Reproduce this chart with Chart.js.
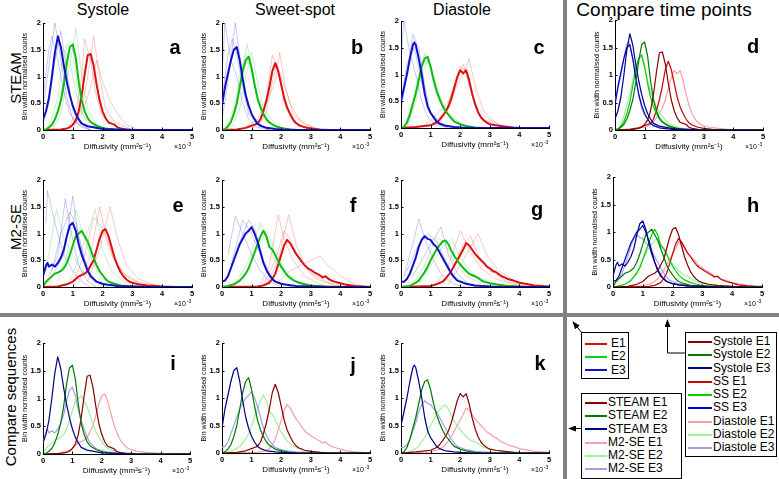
<!DOCTYPE html>
<html>
<head>
<meta charset="utf-8">
<script src="https://cdn.jsdelivr.net/npm/chart.js@4"></script>
<style>
body{margin:0;width:779px;height:479px;position:relative;background:#fff;overflow:hidden;
  font-family:"Liberation Sans",Arial,sans-serif;color:#000}
canvas{position:absolute}
.t{position:absolute;font-size:16px;transform:translateX(-50%);white-space:nowrap;line-height:1}
.r{position:absolute;font-size:15px;transform:translate(-50%,-50%) rotate(-90deg);white-space:nowrap;line-height:1}
.l{position:absolute;font-size:20px;font-weight:bold;transform:translate(-50%,-50%);line-height:1}
.sep{position:absolute;background:#808080}
.box{position:absolute;border:1px solid #000;background:#fff;box-sizing:border-box;font-size:12px}
.row{height:13.3px;line-height:13.3px;white-space:nowrap}
.sw{display:inline-block;height:2px;vertical-align:middle;margin-top:-2px}
</style>
</head>
<body>

<div class="sep" style="left:0;top:313px;width:779px;height:4px"></div>
<div class="sep" style="left:563px;top:0;width:4px;height:479px"></div>

<div class="t" style="left:103px;top:2px">Systole</div>
<div class="t" style="left:295px;top:2px">Sweet-spot</div>
<div class="t" style="left:462px;top:2px">Diastole</div>
<div class="t" style="left:664px;top:0px;font-size:19px">Compare time points</div>

<div class="r" style="left:15px;top:78px">STEAM</div>
<div class="r" style="left:15px;top:227px">M2-SE</div>
<div class="r" style="left:10px;top:397px">Compare sequences</div>

<script>
// ---- mean curves, STEAM (x in 1e-3 mm2/s, y normalised counts) ----
const steamSysE1 = [[0,0],[.6,.01],[.8,.03],[.9,.05],[1,.1],[1.1,.18],[1.2,.35],[1.3,.65],[1.4,1.05],[1.5,1.4],[1.6,1.42],[1.7,1.2],[1.8,.85],[1.9,.55],[2,.35],[2.1,.22],[2.2,.14],[2.3,.12],[2.4,.1],[2.5,.05],[2.6,.03],[2.8,.01],[3,0],[5,0]];
const steamSysE2 = [[0,0],[.1,.01],[.2,.05],[.3,.1],[.4,.2],[.5,.35],[.6,.55],[.7,.85],[.8,1.25],[.9,1.55],[1,1.6],[1.1,1.35],[1.2,.9],[1.3,.55],[1.4,.35],[1.5,.22],[1.6,.15],[1.8,.08],[2,.04],[2.2,.02],[2.5,0],[5,0]];
const steamSysE3 = [[0,.2],[.1,.35],[.2,.6],[.3,1.0],[.4,1.45],[.5,1.75],[.6,1.55],[.7,1.2],[.8,.9],[.9,.65],[1,.45],[1.1,.3],[1.2,.2],[1.3,.12],[1.5,.07],[2,.02],[2.5,.01],[3,0],[5,0]];

const steamSsE1 = [[0,0],[.5,.01],[.8,.04],[1,.08],[1.1,.1],[1.2,.12],[1.3,.2],[1.4,.35],[1.5,.55],[1.6,.8],[1.7,1.1],[1.8,1.25],[1.9,1.1],[2,.85],[2.1,.6],[2.2,.42],[2.3,.3],[2.4,.2],[2.5,.13],[2.6,.09],[2.8,.05],[3,.03],[3.3,.01],[3.6,0],[5,0]];
const steamSsE2 = [[0,0],[.1,.02],[.2,.07],[.3,.15],[.4,.3],[.5,.5],[.6,.8],[.7,1.1],[.8,1.3],[.9,1.37],[1,1.15],[1.1,.85],[1.2,.6],[1.3,.42],[1.4,.3],[1.5,.2],[1.6,.14],[1.8,.07],[2,.04],[2.3,.01],[2.6,0],[5,0]];
const steamSsE3 = [[0,.45],[.1,.8],[.2,1.05],[.3,1.3],[.4,1.5],[.5,1.55],[.6,1.3],[.7,.95],[.8,.65],[.9,.45],[1,.3],[1.1,.2],[1.2,.12],[1.3,.08],[1.5,.04],[1.8,.02],[2,.01],[2.5,0],[5,0]];

const steamDiaE1 = [[0,0],[.5,.02],[1,.05],[1.2,.1],[1.3,.15],[1.4,.22],[1.5,.3],[1.6,.4],[1.7,.55],[1.8,.75],[1.9,.95],[2,1.08],[2.1,1.02],[2.2,1.08],[2.3,.9],[2.4,.65],[2.5,.45],[2.6,.3],[2.7,.2],[2.8,.14],[2.9,.1],[3,.07],[3.2,.05],[3.5,.03],[3.8,.01],[4,0],[5,0]];
const steamDiaE2 = [[0,0],[.1,.02],[.2,.1],[.3,.25],[.4,.45],[.5,.65],[.6,.9],[.7,1.15],[.8,1.3],[.9,1.33],[1,1.15],[1.1,.9],[1.2,.7],[1.3,.55],[1.4,.42],[1.5,.32],[1.6,.25],[1.7,.18],[1.8,.12],[2,.07],[2.2,.04],[2.5,.01],[2.8,0],[5,0]];
const steamDiaE3 = [[0,.5],[.1,.75],[.2,1.0],[.3,1.3],[.4,1.55],[.45,1.6],[.5,1.55],[.6,1.3],[.7,1.0],[.8,.65],[.9,.4],[1,.28],[1.1,.2],[1.2,.12],[1.3,.08],[1.5,.04],[1.8,.02],[2,.01],[2.5,0],[5,0]];

// ---- mean curves, M2-SE ----
const m2SysE1 = [[0,0],[.5,.01],[.8,.05],[1,.1],[1.2,.2],[1.4,.25],[1.5,.3],[1.6,.4],[1.7,.5],[1.8,.7],[1.9,.9],[2,1.05],[2.1,1.08],[2.2,.95],[2.3,.75],[2.4,.55],[2.5,.4],[2.6,.28],[2.7,.2],[2.8,.14],[2.9,.1],[3,.08],[3.2,.05],[3.5,.03],[4,.01],[4.5,0],[5,0]];
const m2SysE2 = [[0,0],[.1,.1],[.2,.15],[.3,.2],[.4,.25],[.5,.27],[.6,.3],[.7,.35],[.8,.45],[.9,.6],[1,.78],[1.1,.95],[1.2,1.0],[1.3,1.05],[1.4,.95],[1.5,.85],[1.6,.7],[1.7,.55],[1.8,.4],[1.9,.3],[2,.22],[2.1,.15],[2.2,.1],[2.4,.06],[2.6,.03],[3,.01],[3.5,0],[5,0]];
const m2SysE3 = [[0,.2],[.1,.4],[.15,.45],[.2,.38],[.3,.42],[.4,.38],[.5,.45],[.6,.55],[.7,.7],[.8,.95],[.9,1.15],[1,1.2],[1.1,1.05],[1.2,.8],[1.3,.6],[1.4,.45],[1.5,.3],[1.6,.2],[1.7,.15],[1.8,.1],[2,.06],[2.2,.04],[2.5,.02],[3,.01],[3.5,0],[5,0]];

const m2SsE1 = [[0,0],[1.2,.01],[1.4,.03],[1.6,.08],[1.7,.15],[1.8,.25],[1.9,.42],[2,.6],[2.1,.78],[2.2,.88],[2.3,.82],[2.4,.72],[2.5,.62],[2.6,.55],[2.7,.47],[2.8,.4],[2.9,.35],[3,.32],[3.1,.28],[3.2,.25],[3.3,.22],[3.4,.18],[3.5,.2],[3.6,.15],[3.7,.12],[3.8,.1],[4,.07],[4.2,.04],[4.5,.02],[5,0]];
const m2SsE2 = [[0,0],[.2,.02],[.4,.05],[.6,.12],[.8,.25],[.9,.35],[1,.5],[1.1,.65],[1.2,.8],[1.3,.95],[1.4,1.05],[1.5,.95],[1.6,.75],[1.7,.7],[1.8,.6],[1.9,.48],[2,.38],[2.1,.3],[2.2,.22],[2.3,.17],[2.4,.13],[2.6,.08],[2.8,.05],[3,.03],[3.5,.01],[4,0],[5,0]];
const m2SsE3 = [[0,.1],[.1,.12],[.2,.2],[.3,.35],[.4,.5],[.5,.65],[.6,.8],[.7,.9],[.8,1.0],[.9,1.05],[1,1.12],[1.1,1.0],[1.2,.85],[1.3,.65],[1.4,.45],[1.5,.32],[1.6,.22],[1.7,.15],[1.8,.1],[2,.06],[2.2,.04],[2.5,.02],[3,.01],[3.5,0],[5,0]];

const m2DiaE1 = [[0,0],[1,.02],[1.2,.05],[1.4,.1],[1.5,.15],[1.6,.22],[1.7,.3],[1.8,.4],[1.9,.5],[2,.6],[2.1,.7],[2.2,.82],[2.3,.78],[2.4,.7],[2.5,.62],[2.6,.56],[2.7,.5],[2.8,.45],[2.9,.38],[3,.35],[3.1,.3],[3.2,.28],[3.3,.24],[3.4,.2],[3.5,.18],[3.6,.15],[3.8,.12],[4,.08],[4.2,.06],[4.5,.03],[5,.01]];
const m2DiaE2 = [[0,0],[.3,.02],[.5,.08],[.6,.12],[.7,.2],[.8,.28],[.9,.38],[1,.5],[1.1,.6],[1.2,.7],[1.3,.78],[1.4,.85],[1.5,.87],[1.6,.8],[1.7,.68],[1.8,.58],[1.9,.5],[2,.42],[2.1,.36],[2.2,.3],[2.3,.25],[2.4,.22],[2.5,.2],[2.6,.17],[2.7,.13],[2.8,.1],[3,.07],[3.2,.05],[3.5,.03],[4,.01],[4.5,0],[5,0]];
const m2DiaE3 = [[0,.1],[.1,.1],[.2,.15],[.3,.25],[.4,.4],[.5,.55],[.6,.75],[.7,.88],[.8,.95],[.9,.9],[1,.88],[1.1,.8],[1.2,.75],[1.3,.65],[1.4,.55],[1.5,.45],[1.6,.35],[1.7,.25],[1.8,.18],[1.9,.12],[2,.1],[2.2,.06],[2.5,.03],[3,.01],[3.5,0],[5,0]];

// ---- individual subjects (faint) ----
const aFaintE1 = [[[.8,0],[1.1,.3],[1.3,1.0],[1.4,1.7],[1.6,1.3],[1.8,.6],[2,.25],[2.5,.05],[3,0]],
                  [[1,0],[1.3,.4],[1.5,1.0],[1.7,1.75],[1.9,1.0],[2.1,.4],[2.4,.15],[3,0]],
                  [[.9,.05],[1.3,.3],[1.6,.8],[1.8,1.3],[2,.9],[2.2,.6],[2.5,.3],[2.8,.1],[3.2,0]]];
const aFaintE2 = [[[.2,0],[.5,.3],[.7,1.0],[.8,1.6],[1,1.5],[1.2,.6],[1.4,.2],[1.8,.05],[2.2,0]],
                  [[.3,0],[.6,.3],[.9,1.2],[1.1,1.9],[1.3,1.0],[1.5,.4],[1.8,.1],[2.2,0]],
                  [[.2,.05],[.5,.6],[.7,1.5],[.9,1.3],[1.1,.7],[1.3,.3],[1.7,.1],[2.2,0]]];
const aFaintE3 = [[[0,.4],[.2,1.2],[.4,2.0],[.6,1.3],[.8,.6],[1,.2],[1.3,.05],[1.6,0]],
                  [[0,.1],[.2,.5],[.4,1.3],[.6,1.85],[.8,1.1],[1,.4],[1.2,.15],[1.6,0]],
                  [[0,.6],[.2,1.5],[.3,1.75],[.5,1.3],[.7,.7],[.9,.3],[1.2,.1],[1.6,0]]];

const bFaintE1 = [[[1,0],[1.3,.2],[1.5,.6],[1.7,1.4],[1.9,1.1],[2.1,.5],[2.4,.15],[3,0]],
                  [[.8,.05],[1.2,.2],[1.5,.5],[1.8,.9],[1.95,1.45],[2.1,.9],[2.4,.3],[2.8,.1],[3.4,0]],
                  [[1.2,0],[1.5,.35],[1.7,.9],[1.85,1.25],[2,1.0],[2.3,.5],[2.6,.2],[3.2,0]]];
const bFaintE2 = [[[.2,0],[.5,.5],[.7,1.2],[.85,1.6],[1,1.2],[1.2,.5],[1.5,.2],[2,0]],
                  [[.3,0],[.6,.4],[.8,1.0],[1,1.45],[1.2,.9],[1.4,.4],[1.8,.1],[2.2,0]],
                  [[.1,0],[.4,.4],[.6,1.0],[.8,1.4],[.95,1.3],[1.2,.6],[1.5,.2],[2,0]]];
const bFaintE3 = [[[0,1.0],[.1,2.0],[.3,1.3],[.5,1.0],[.7,.5],[.9,.2],[1.2,.05],[1.6,0]],
                  [[0,.2],[.2,.9],[.45,2.0],[.6,1.4],[.8,.7],[1,.3],[1.3,.1],[1.6,0]],
                  [[0,.6],[.2,1.4],[.35,1.7],[.5,1.4],[.7,.8],[.9,.3],[1.2,.1],[1.6,0]]];

const cFaintE1 = [[[1,.05],[1.5,.3],[1.8,.8],[2,1.15],[2.2,1.05],[2.4,.6],[2.7,.2],[3.2,.05],[3.8,0]],
                  [[1.2,.05],[1.6,.35],[1.9,.8],[2.1,1.0],[2.3,1.3],[2.5,.8],[2.8,.3],[3.3,.05],[3.8,0]],
                  [[.8,.05],[1.3,.3],[1.6,.5],[1.9,.9],[2.1,1.2],[2.3,.8],[2.6,.35],[3,.15],[3.6,0]]];
const cFaintE2 = [[[.1,0],[.4,.5],[.6,1.0],[.8,1.4],[1,1.1],[1.2,.6],[1.5,.3],[2,.05],[2.4,0]],
                  [[.2,0],[.5,.5],[.7,1.0],[.9,1.25],[1.1,1.0],[1.3,.6],[1.6,.25],[2.2,0]]];
const cFaintE3 = [[[0,1.3],[.1,2.0],[.3,1.4],[.5,1.0],[.7,.5],[.9,.2],[1.2,.05],[1.6,0]],
                  [[0,.3],[.2,1.0],[.4,1.75],[.6,1.5],[.8,.8],[1,.3],[1.3,.1],[1.8,0]],
                  [[0,.5],[.2,1.2],[.45,1.5],[.6,1.1],[.8,.6],[1,.3],[1.3,.1],[1.8,0]]];

const eFaintE1 = [[[1.2,.1],[1.6,.6],[1.9,1.5],[2.1,1.0],[2.4,.5],[2.8,.2],[3.3,.05],[3.8,0]],
                  [[1.5,.1],[1.9,.7],[2.25,1.5],[2.5,.9],[2.8,.4],[3.2,.15],[3.8,.03],[4.3,0]],
                  [[1,.1],[1.4,.6],[1.7,1.3],[2,1.1],[2.3,.6],[2.7,.25],[3.2,.1],[4,0]]];
const eFaintE2 = [[[.1,.3],[.45,1.45],[.7,.9],[1,.6],[1.3,.3],[1.7,.1],[2.2,0]],
                  [[.5,.1],[.8,.6],[1.1,1.45],[1.4,.9],[1.7,.4],[2,.15],[2.5,0]],
                  [[.9,.1],[1.3,.7],[1.75,1.45],[2,.7],[2.3,.3],[2.7,.1],[3.2,0]]];
const eFaintE3 = [[[.1,1.2],[.15,1.8],[.4,1.2],[.7,.6],[1,.3],[1.3,.1],[1.6,0]],
                  [[.2,.2],[.5,.6],[.75,1.65],[.95,1.0],[1.2,.4],[1.5,.1],[1.8,0]],
                  [[.3,.2],[.7,.6],[1,1.7],[1.2,.9],[1.5,.3],[1.8,.1],[2.2,0]],
                  [[.3,.3],[.6,1.0],[.9,1.4],[1.1,1.2],[1.4,.5],[1.7,.15],[2,0]]];

const fFaintE1 = [[[1.3,.05],[1.6,.4],[1.9,1.35],[2.1,.9],[2.4,.5],[2.8,.2],[3.3,.05],[3.8,0]],
                  [[1.5,.05],[1.9,.5],[2.25,1.35],[2.5,.8],[2.8,.4],[3.2,.15],[3.8,.03],[4.3,0]],
                  [[1.8,.05],[2.3,.3],[2.8,.45],[3.3,.58],[3.6,.4],[4,.2],[4.5,.05],[5,0]],
                  [[1.4,.05],[1.8,.5],[2.1,1.05],[2.3,.9],[2.6,.55],[3,.25],[3.6,.08],[4.2,0]]];
const fFaintE2 = [[[.5,.1],[.9,.5],[1.3,1.2],[1.5,.9],[1.8,.5],[2.2,.2],[2.8,.05],[3.2,0]],
                  [[.7,.1],[1.1,.6],[1.5,1.05],[1.8,.7],[2.1,.35],[2.5,.1],[3,0]]];
const fFaintE3 = [[[.2,.6],[.45,1.32],[.7,1.0],[1,.6],[1.3,.3],[1.6,.1],[2,0]],
                  [[.2,.2],[.5,.7],[.9,1.25],[1.1,1.1],[1.4,.5],[1.7,.15],[2.1,0]],
                  [[.3,.4],[.7,1.25],[1,1.0],[1.3,.6],[1.6,.2],[2,.05],[2.4,0]]];

const gFaintE1 = [[[1.2,.05],[1.6,.4],[2,1.05],[2.3,.7],[2.7,.35],[3.2,.15],[3.8,.05],[4.4,0]],
                  [[1.6,.05],[2,.4],[2.3,.7],[2.6,1.0],[2.9,.6],[3.3,.3],[3.9,.1],[4.6,0]],
                  [[1.4,.05],[1.8,.4],[2.1,.8],[2.35,.95],[2.6,.6],[3,.3],[3.6,.1],[4.3,0]]];
const gFaintE2 = [[[.4,.05],[.8,.4],[1.2,.95],[1.5,.8],[1.8,.45],[2.2,.2],[2.8,.05],[3.3,0]],
                  [[.6,.05],[1,.4],[1.4,.75],[1.7,.9],[2,.55],[2.4,.25],[3,.08],[3.6,0]]];
const gFaintE3 = [[[.1,.2],[.4,.8],[.6,1.27],[.8,.9],[1.1,.5],[1.4,.2],[1.8,.05],[2.2,0]],
                  [[.4,.2],[.8,.6],[1.1,.9],[1.35,1.12],[1.6,.6],[1.9,.25],[2.3,.05],[2.8,0]],
                  [[.2,.3],[.6,.8],[.9,1.0],[1.2,.85],[1.5,.5],[1.8,.2],[2.2,.05],[2.6,0]]];

const X_TICKS = [0, 1, 2, 3, 4, 5];
const Y_TICKS = [0, 0.5, 1, 1.5, 2];

// colours
const MEAN = {E1: '#dd1010', E2: '#10bb10', E3: '#1010c8'};
const FAINT = {E1: 'rgba(235,40,40,0.32)', E2: 'rgba(40,200,40,0.32)', E3: 'rgba(40,40,220,0.32)'};
const DARK = {E1: '#880000', E2: '#007a00', E3: '#000082'};
const MID = {E1: '#c80000', E2: '#00d000', E3: '#0000c8'};
const LIGHT = {E1: '#f4a0a8', E2: '#a0f0a0', E3: '#a0a0e6'};

Chart.defaults.font.family = '"Liberation Sans", Arial, sans-serif';
Chart.defaults.color = '#000';

const xy = pts => pts.map(p => ({x: p[0], y: p[1]}));
const ln = (pts, color, w) => ({data: xy(pts), borderColor: color, borderWidth: w});
const faint = (list, color) => list.map(p => ln(p, color, 0.8));

function meanPanel(e1, e2, e3, f1, f2, f3) {
    return [ln(e3, MEAN.E3, 2), ln(e2, MEAN.E2, 2), ln(e1, MEAN.E1, 2),
        ...faint(f3, FAINT.E3), ...faint(f2, FAINT.E2), ...faint(f1, FAINT.E1)];
}
function trio(c, s1, s2, s3) {
    return [ln(s3, c.E3, 1.2), ln(s2, c.E2, 1.2), ln(s1, c.E1, 1.2)];
}

const panels = [
    {letter: 'a', rect: [43, 23, 192, 130], lp: [175, 47],
     sets: meanPanel(steamSysE1, steamSysE2, steamSysE3, aFaintE1, aFaintE2, aFaintE3)},
    {letter: 'b', rect: [222, 23, 370, 130], lp: [357, 47],
     sets: meanPanel(steamSsE1, steamSsE2, steamSsE3, bFaintE1, bFaintE2, bFaintE3)},
    {letter: 'c', rect: [401, 21, 549, 128], lp: [539, 47],
     sets: meanPanel(steamDiaE1, steamDiaE2, steamDiaE3, cFaintE1, cFaintE2, cFaintE3)},
    {letter: 'd', rect: [615, 20, 763, 130], lp: [753, 46],
     sets: [...trio(DARK, steamSysE1, steamSysE2, steamSysE3), ...trio(MID, steamSsE1, steamSsE2, steamSsE3),
            ...trio(LIGHT, steamDiaE1, steamDiaE2, steamDiaE3)]},
    {letter: 'e', rect: [43, 180, 192, 287], lp: [178, 205],
     sets: meanPanel(m2SysE1, m2SysE2, m2SysE3, eFaintE1, eFaintE2, eFaintE3)},
    {letter: 'f', rect: [222, 180, 370, 287], lp: [353, 205],
     sets: meanPanel(m2SsE1, m2SsE2, m2SsE3, fFaintE1, fFaintE2, fFaintE3)},
    {letter: 'g', rect: [401, 180, 549, 287], lp: [537, 209],
     sets: meanPanel(m2DiaE1, m2DiaE2, m2DiaE3, gFaintE1, gFaintE2, gFaintE3)},
    {letter: 'h', rect: [613, 177, 762, 287], lp: [753, 205],
     sets: [...trio(DARK, m2SysE1, m2SysE2, m2SysE3), ...trio(MID, m2SsE1, m2SsE2, m2SsE3),
            ...trio(LIGHT, m2DiaE1, m2DiaE2, m2DiaE3)]},
    {letter: 'i', rect: [43, 343, 190, 454], lp: [173, 363],
     sets: [...trio(DARK, steamSysE1, steamSysE2, steamSysE3), ...trio(LIGHT, m2SysE1, m2SysE2, m2SysE3)]},
    {letter: 'j', rect: [222, 343, 370, 453], lp: [353, 365],
     sets: [...trio(DARK, steamSsE1, steamSsE2, steamSsE3), ...trio(LIGHT, m2SsE1, m2SsE2, m2SsE3)]},
    {letter: 'k', rect: [401, 343, 549, 453], lp: [540, 363],
     sets: [...trio(DARK, steamDiaE1, steamDiaE2, steamDiaE3), ...trio(LIGHT, m2DiaE1, m2DiaE2, m2DiaE3)]},
];

/* inward MATLAB style ticks + the x10^-3 exponent */
const axesExtra = {
    id: 'axesExtra',
    afterDraw(chart) {
        const {ctx, chartArea: a, scales: {x, y}} = chart;
        ctx.save();
        ctx.strokeStyle = '#000';
        ctx.lineWidth = 1;
        ctx.beginPath();
        X_TICKS.forEach(v => {
            const px = Math.round(x.getPixelForValue(v)) + 0.5;
            ctx.moveTo(px, a.bottom); ctx.lineTo(px, a.bottom - 2.5);
        });
        Y_TICKS.forEach(v => {
            const py = Math.round(y.getPixelForValue(v)) + 0.5;
            ctx.moveTo(a.left, py); ctx.lineTo(a.left + 2.5, py);
        });
        ctx.stroke();
        ctx.fillStyle = '#000';
        ctx.textAlign = 'left';
        ctx.font = '7px "Liberation Sans", Arial, sans-serif';
        const bx = a.right - 18, by = a.bottom + 19;
        ctx.fillText('×10', bx, by);
        ctx.font = '5px "Liberation Sans", Arial, sans-serif';
        ctx.fillText('-3', bx + ctx.measureText('×10').width * 1.4 + 1, by - 3);
        ctx.restore();
    }
};

const YW = 24, XH = 22, PT = 6, PR = 6;

panels.forEach(p => {
    const [L, T, R, B] = p.rect;
    const cv = document.createElement('canvas');
    cv.width = R - L + YW + PR;
    cv.height = B - T + PT + XH;
    cv.style.left = (L - YW) + 'px';
    cv.style.top = (T - PT) + 'px';
    cv.style.width = cv.width + 'px';
    cv.style.height = cv.height + 'px';
    document.body.appendChild(cv);

    new Chart(cv, {
        type: 'line',
        data: {datasets: p.sets},
        options: {
            responsive: false,
            animation: false,
            layout: {padding: {top: PT, right: PR, left: 0, bottom: 0}},
            elements: {point: {radius: 0}, line: {tension: 0, borderJoinStyle: 'round'}},
            plugins: {legend: {display: false}, tooltip: {enabled: false}},
            scales: {
                x: {
                    type: 'linear', min: 0, max: 5,
                    afterBuildTicks: s => { s.ticks = X_TICKS.map(v => ({value: v})); },
                    ticks: {font: {size: 7.5, weight: 'bold'}, padding: 2, maxRotation: 0, callback: v => String(v)},
                    grid: {display: false, drawTicks: false, tickLength: 0},
                    border: {display: true, color: '#000', width: 1},
                    title: {display: true, text: 'Diffusivity (mm²s⁻¹)', font: {size: 8}, padding: 0},
                    afterFit: s => { s.height = XH; s.paddingLeft = s.paddingRight = 0; }
                },
                y: {
                    type: 'linear', min: 0, max: 2,
                    afterBuildTicks: s => { s.ticks = Y_TICKS.map(v => ({value: v})); },
                    ticks: {font: {size: 7.5, weight: 'bold'}, padding: 2, callback: v => String(v)},
                    grid: {display: false, drawTicks: false, tickLength: 0},
                    border: {display: true, color: '#000', width: 1},
                    title: {display: true, text: 'Bin width normalised counts', font: {size: 7}, padding: {top: 2, bottom: 0}},
                    afterFit: s => { s.width = YW; s.paddingTop = s.paddingBottom = 0; }
                }
            }
        },
        plugins: [axesExtra]
    });

    const lb = document.createElement('div');
    lb.className = 'l';
    lb.style.left = p.lp[0] + 'px';
    lb.style.top = p.lp[1] + 'px';
    lb.textContent = p.letter;
    document.body.appendChild(lb);
});
</script>

<svg width="779" height="479" style="position:absolute;left:0;top:0">
  <defs>
    <marker id="ah" markerWidth="8" markerHeight="6" refX="7" refY="3" orient="auto" markerUnits="userSpaceOnUse">
      <path d="M0,0 L8,3 L0,6 z" fill="#000"/>
    </marker>
  </defs>
  <line x1="582" y1="333" x2="573" y2="322" stroke="#000" stroke-width="1" marker-end="url(#ah)"/>
  <polyline points="685,353 667.5,353 667.5,320" fill="none" stroke="#000" stroke-width="1" marker-end="url(#ah)"/>
  <line x1="581" y1="428.5" x2="569" y2="428.5" stroke="#000" stroke-width="1" marker-end="url(#ah)"/>
</svg>

<div class="box" style="left:581px;top:332px;width:48px;height:47px;padding-top:4px">
  <div class="row"><span class="sw" style="width:22px;margin:0 4px 0 3px;background:#dd1010"></span>E1</div>
  <div class="row"><span class="sw" style="width:22px;margin:0 4px 0 3px;background:#10d010"></span>E2</div>
  <div class="row"><span class="sw" style="width:22px;margin:0 4px 0 3px;background:#1010c8"></span>E3</div>
</div>

<div class="box" style="left:685px;top:332px;width:92px;height:125px;padding-top:2px">
  <div class="row"><span class="sw" style="width:24px;margin:0 1px 0 2px;background:#880000"></span>Systole E1</div>
  <div class="row"><span class="sw" style="width:24px;margin:0 1px 0 2px;background:#007a00"></span>Systole E2</div>
  <div class="row"><span class="sw" style="width:24px;margin:0 1px 0 2px;background:#000082"></span>Systole E3</div>
  <div class="row"><span class="sw" style="width:24px;margin:0 1px 0 2px;background:#c80000"></span>SS E1</div>
  <div class="row"><span class="sw" style="width:24px;margin:0 1px 0 2px;background:#00d000"></span>SS E2</div>
  <div class="row"><span class="sw" style="width:24px;margin:0 1px 0 2px;background:#0000c8"></span>SS E3</div>
  <div class="row"><span class="sw" style="width:24px;margin:0 1px 0 2px;background:#f4a0a8"></span>Diastole E1</div>
  <div class="row"><span class="sw" style="width:24px;margin:0 1px 0 2px;background:#a0f0a0"></span>Diastole E2</div>
  <div class="row"><span class="sw" style="width:24px;margin:0 1px 0 2px;background:#a0a0e6"></span>Diastole E3</div>
</div>

<div class="box" style="left:581px;top:393px;width:101px;height:86px;padding-top:2px">
  <div class="row"><span class="sw" style="width:22px;margin:0 1px 0 3px;background:#880000"></span>STEAM E1</div>
  <div class="row"><span class="sw" style="width:22px;margin:0 1px 0 3px;background:#007a00"></span>STEAM E2</div>
  <div class="row"><span class="sw" style="width:22px;margin:0 1px 0 3px;background:#000082"></span>STEAM E3</div>
  <div class="row"><span class="sw" style="width:22px;margin:0 1px 0 3px;background:#f4a0a8"></span>M2-SE E1</div>
  <div class="row"><span class="sw" style="width:22px;margin:0 1px 0 3px;background:#a0f0a0"></span>M2-SE E2</div>
  <div class="row"><span class="sw" style="width:22px;margin:0 1px 0 3px;background:#a0a0e6"></span>M2-SE E3</div>
</div>

</body>
</html>
